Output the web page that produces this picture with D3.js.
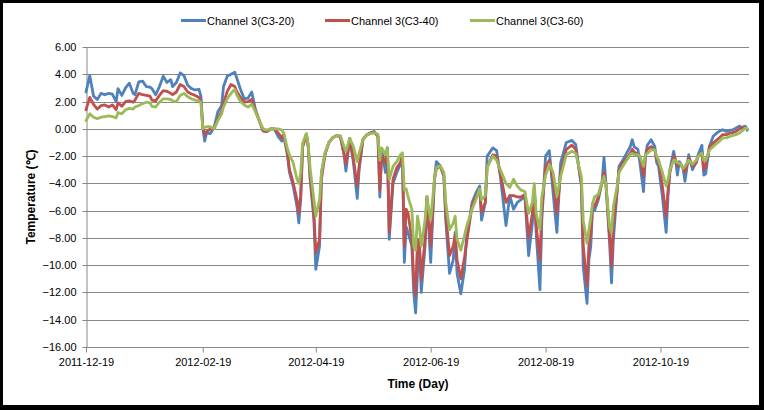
<!DOCTYPE html>
<html><head><meta charset="utf-8">
<script src="https://cdn.jsdelivr.net/npm/d3@7"></script>
<style>
html,body{margin:0;padding:0;background:#fff;}
svg{display:block;}
text{font-family:"Liberation Sans",Arial,sans-serif;fill:#000;}
</style></head><body>
<svg id="chart" width="764" height="410"></svg>
<script>
const startDate = "2011-12-19";
const endDay = 352;
const tickLabels = ["2011-12-19","2012-02-19","2012-04-19","2012-06-19","2012-08-19","2012-10-19"];
const yTicks = [6,4,2,0,-2,-4,-6,-8,-10,-12,-14,-16];
const seriesNames = ["Channel 3(C3-20)","Channel 3(C3-40)","Channel 3(C3-60)"];
const seriesColors = ["#4F81BD","#C0504D","#9BBB59"];

const days = [0,2,4,6,8,10,12,14,16,17,19,21,23,25,26,28,30,32,34,35,37,39,41,43,45,46,48,50,52,54,56,58,60,61,62,63,64,66,68,70,72,73,75,77,79,80,82,84,86,88,90,92,94,96,98,100,102,104,105,107,108,110,112,113,114,115,117,118,119,121,122,124,125,127,129,131,133,135,137,138,140,142,144,145,147,149,151,153,155,156,157,159,160,161,163,165,167,168,169,170,171,173,174,175,176,177,178,180,181,183,185,186,188,190,191,193,195,196,197,199,201,202,205,207,209,210,212,213,216,218,220,223,225,227,229,231,233,235,237,238,239,241,242,244,246,248,250,252,255,258,260,263,264,266,267,268,269,270,272,274,275,276,278,279,280,282,283,285,287,289,290,291,293,294,296,297,298,300,302,303,304,306,308,309,310,312,313,314,315,317,318,320,322,324,325,327,328,329,331,333,335,336,338,340,342,343,345,347,348,350,351];

const c3_20 = [2.7,3.9,2.4,2.15,2.6,2.5,2.6,2.55,2.0,2.95,2.45,3.0,3.35,2.6,2.5,3.45,3.5,3.1,3.05,2.95,2.5,3.1,3.85,3.4,3.6,3.1,3.4,4.1,3.9,3.2,2.95,2.85,2.9,2.4,0.1,-0.9,-0.3,-0.35,0.1,1.25,1.7,3.1,3.85,4.0,4.15,3.75,2.9,2.2,2.25,2.7,1.4,0.6,-0.15,-0.2,0.0,0.0,-0.55,-0.9,-0.5,-2.0,-3.2,-4.2,-5.7,-6.9,-5.1,-1.3,-0.4,-1.3,-3.7,-6.7,-10.3,-8.6,-3.2,-1.8,-1.0,-0.65,-0.5,-0.55,-1.9,-3.1,-0.7,-2.5,-5.1,-3.0,-0.8,-0.45,-0.3,-0.2,-0.55,-5.0,-1.5,-3.2,-1.4,-8.1,-4.0,-3.2,-2.6,-1.9,-9.8,-7.2,-7.6,-8.6,-12.0,-13.5,-10.6,-8.1,-12.0,-8.6,-5.0,-9.8,-3.7,-2.4,-2.7,-3.5,-6.7,-10.6,-9.6,-7.6,-10.6,-12.1,-10.3,-8.0,-5.4,-4.7,-4.2,-6.7,-5.4,-2.0,-1.4,-1.6,-3.5,-7.1,-4.9,-5.9,-5.4,-5.2,-4.95,-9.3,-6.9,-4.3,-7.6,-11.8,-6.7,-2.0,-1.6,-4.7,-7.6,-2.5,-1.0,-0.85,-1.15,-4.2,-10.1,-12.8,-9.6,-8.6,-5.7,-6.0,-5.2,-3.9,-2.1,-3.9,-8.4,-11.3,-8.1,-4.5,-2.75,-2.3,-1.8,-1.3,-0.8,-1.3,-1.5,-2.4,-4.6,-2.0,-1.2,-0.8,-1.3,-2.5,-2.75,-4.95,-7.6,-4.95,-3.0,-1.65,-2.3,-3.4,-2.4,-2.9,-3.85,-1.9,-3.0,-2.4,-1.9,-1.2,-3.4,-3.3,-1.3,-0.55,-0.3,-0.2,-0.06,-0.2,-0.1,-0.1,0.05,0.2,0.1,0.2,-0.1];

const c3_40 = [1.4,2.3,1.8,1.45,1.7,1.75,1.6,1.75,1.4,1.9,1.65,2.0,2.05,1.95,2.1,2.6,2.5,2.45,2.4,2.1,2.05,2.45,2.8,2.75,2.6,2.5,2.7,3.25,3.1,2.7,2.55,2.45,2.3,2.1,0.2,-0.45,-0.2,0.0,0.05,0.7,1.3,1.9,2.75,3.25,3.1,2.75,2.3,1.95,2.0,2.15,1.3,0.6,-0.15,-0.2,0.0,0.0,-0.3,-0.65,-0.4,-1.8,-2.95,-3.95,-5.2,-6.2,-4.9,-1.3,-0.4,-1.3,-3.5,-6.2,-9.1,-8.1,-3.7,-1.8,-1.0,-0.65,-0.5,-0.55,-1.8,-2.6,-0.7,-2.25,-4.2,-2.75,-0.8,-0.45,-0.3,-0.25,-0.55,-4.5,-2.0,-2.5,-1.4,-7.6,-3.7,-2.85,-2.45,-1.9,-8.6,-5.9,-6.2,-8.1,-11.0,-12.2,-8.1,-8.6,-11.1,-8.1,-5.0,-8.6,-3.7,-2.95,-2.7,-3.4,-6.2,-9.3,-8.6,-7.8,-9.6,-11.0,-9.4,-8.4,-5.6,-5.0,-4.5,-6.1,-5.4,-2.8,-1.9,-2.0,-3.3,-5.4,-4.9,-4.9,-5.0,-5.0,-4.8,-8.0,-6.2,-4.45,-7.1,-9.6,-6.0,-2.8,-2.3,-3.8,-6.2,-3.2,-1.5,-1.2,-1.5,-4.0,-8.6,-11.5,-8.6,-7.6,-5.5,-5.7,-5.0,-3.9,-3.2,-4.0,-7.9,-10.1,-7.0,-4.5,-3.0,-2.5,-2.2,-1.8,-1.5,-1.7,-1.9,-2.0,-3.5,-2.0,-1.5,-1.3,-1.55,-2.3,-2.3,-4.2,-6.4,-4.5,-3.2,-2.0,-2.3,-2.75,-2.5,-2.9,-3.2,-2.15,-2.75,-2.5,-2.0,-1.8,-3.0,-2.75,-1.3,-1.05,-0.8,-0.7,-0.43,-0.43,-0.3,-0.3,-0.2,0.0,0.1,0.05,0.0];

const c3_60 = [0.6,1.1,0.85,0.75,0.85,0.9,0.95,0.9,0.8,1.2,1.1,1.4,1.5,1.45,1.6,1.7,1.85,1.95,1.9,1.65,1.6,1.95,2.2,2.2,2.15,2.05,2.0,2.45,2.6,2.35,2.2,2.1,2.05,1.95,0.0,0.1,0.15,0.15,0.0,0.6,1.1,1.6,2.2,2.6,2.9,2.5,2.0,1.75,1.6,1.8,1.25,0.6,0.0,-0.1,0.0,0.0,0.0,-0.1,-0.3,-1.5,-1.9,-2.5,-3.7,-4.0,-3.2,-1.05,-0.35,-1.2,-2.9,-5.2,-6.4,-5.2,-3.2,-1.7,-1.0,-0.65,-0.5,-0.5,-1.3,-1.65,-0.7,-1.3,-2.4,-1.8,-0.8,-0.45,-0.35,-0.3,-0.4,-2.3,-1.4,-1.9,-1.4,-3.7,-2.75,-2.4,-1.9,-1.75,-4.5,-4.4,-5.0,-5.9,-8.6,-8.9,-6.4,-7.2,-8.6,-6.7,-5.0,-6.7,-3.7,-2.85,-2.7,-3.2,-5.4,-7.4,-6.9,-6.4,-8.1,-8.9,-7.8,-7.2,-5.9,-5.2,-4.4,-5.2,-4.9,-2.8,-2.0,-2.3,-3.0,-4.0,-4.3,-3.7,-4.2,-4.5,-4.6,-6.2,-5.4,-4.0,-6.2,-7.4,-5.0,-3.4,-2.6,-3.2,-4.95,-3.5,-1.9,-1.65,-1.8,-3.5,-6.7,-8.4,-7.4,-6.5,-5.45,-5.0,-4.8,-3.9,-3.5,-4.0,-7.2,-7.6,-5.7,-4.2,-3.2,-2.75,-2.3,-1.9,-1.8,-1.9,-1.9,-2.0,-2.75,-1.9,-1.8,-1.55,-1.55,-2.0,-2.3,-3.2,-4.2,-3.75,-3.0,-2.3,-2.3,-2.5,-2.5,-2.9,-2.75,-2.3,-2.6,-2.3,-2.0,-1.8,-2.3,-2.3,-1.55,-1.3,-1.05,-0.95,-0.67,-0.67,-0.55,-0.5,-0.43,-0.3,-0.2,0.05,0.0];

const seriesValues = [c3_20, c3_40, c3_60];

const svg = d3.select("#chart");
const W = 764, H = 410;
const plot = {left: 86, right: 749, top: 47, bottom: 347};

const t0 = d3.utcParse("%Y-%m-%d")(startDate);
const toDate = d => d3.utcDay.offset(t0, d);
const x = d3.scaleUtc().domain([t0, toDate(endDay)]).range([plot.left, plot.right]);
const y = d3.scaleLinear().domain([-16, 6]).range([plot.bottom, plot.top]);

// background and frame
svg.append("rect").attr("x",0).attr("y",0).attr("width",W).attr("height",H).attr("fill","#fff");

// gridlines
svg.append("g").selectAll("line").data(yTicks.filter(v => v !== -16)).join("line")
  .attr("x1", plot.left).attr("x2", plot.right)
  .attr("y1", d => Math.round(y(d)) + 0.5).attr("y2", d => Math.round(y(d)) + 0.5)
  .attr("stroke", "#878787").attr("stroke-width", 1);

// y axis
const yAxis = d3.axisLeft(y).tickValues(yTicks).tickSize(4).tickSizeOuter(0).tickPadding(6)
  .tickFormat(d3.format(".2f"));
const gy = svg.append("g").attr("transform", `translate(${plot.left + 0.5},0)`).call(yAxis);
gy.selectAll("path,line").attr("stroke", "#878787");
gy.selectAll("text").style("font-size","11px").attr("fill","#000");
gy.selectAll(".tick").attr("transform", d => `translate(0,${Math.round(y(d)) + 0.5})`);

// x axis
const tickDates = tickLabels.map(s => d3.utcParse("%Y-%m-%d")(s));
const xAxis = d3.axisBottom(x).tickValues(tickDates).tickSize(5).tickSizeOuter(0).tickPadding(6)
  .tickFormat(d3.utcFormat("%Y-%m-%d"));
const gx = svg.append("g").attr("transform", `translate(0,${Math.round(plot.bottom) + 0.5})`).call(xAxis);
gx.selectAll("path,line").attr("stroke", "#878787");
gx.selectAll("text").style("font-size","11px").attr("fill","#000");
gx.select(".domain").attr("d", `M${plot.left},0H${plot.right}`);

// lines
const line = d3.line().x((d,i) => x(toDate(days[i]))).y(d => y(d)).curve(d3.curveLinear);
seriesValues.forEach((vals, k) => {
  svg.append("path").datum(vals)
    .attr("d", line)
    .attr("fill","none")
    .attr("stroke", seriesColors[k])
    .attr("stroke-width", 2.8)
    .attr("stroke-linejoin","round")
    .attr("stroke-linecap","round");
});

// axis titles
svg.append("text").attr("x", 418).attr("y", 388).attr("text-anchor","middle")
  .style("font-size","12px").style("font-weight","bold").text("Time (Day)");
svg.append("text").attr("transform","translate(35,197) rotate(-90)").attr("text-anchor","middle")
  .style("font-size","12px").style("font-weight","bold").text("Temperature (℃)");

// legend
const legendX = [181, 325, 470];
const lg = svg.append("g");
seriesNames.forEach((n, k) => {
  lg.append("line").attr("x1", legendX[k]).attr("x2", legendX[k] + 25)
    .attr("y1", 20.5).attr("y2", 20.5).attr("stroke", seriesColors[k]).attr("stroke-width", 3);
  lg.append("text").attr("x", legendX[k] + 26).attr("y", 24.5)
    .style("font-size","11px").text(n);
});

// outer black frame
svg.append("rect").attr("x",1.5).attr("y",1.5).attr("width",W-5).attr("height",H-5)
  .attr("fill","none").attr("stroke","#000").attr("stroke-width",3);
svg.append("line").attr("x1",0).attr("x2",W).attr("y1",H-2).attr("y2",H-2).attr("stroke","#000").attr("stroke-width",5);
svg.append("line").attr("x1",W-2.5).attr("x2",W-2.5).attr("y1",0).attr("y2",H).attr("stroke","#000").attr("stroke-width",5);
</script>
</body></html>
